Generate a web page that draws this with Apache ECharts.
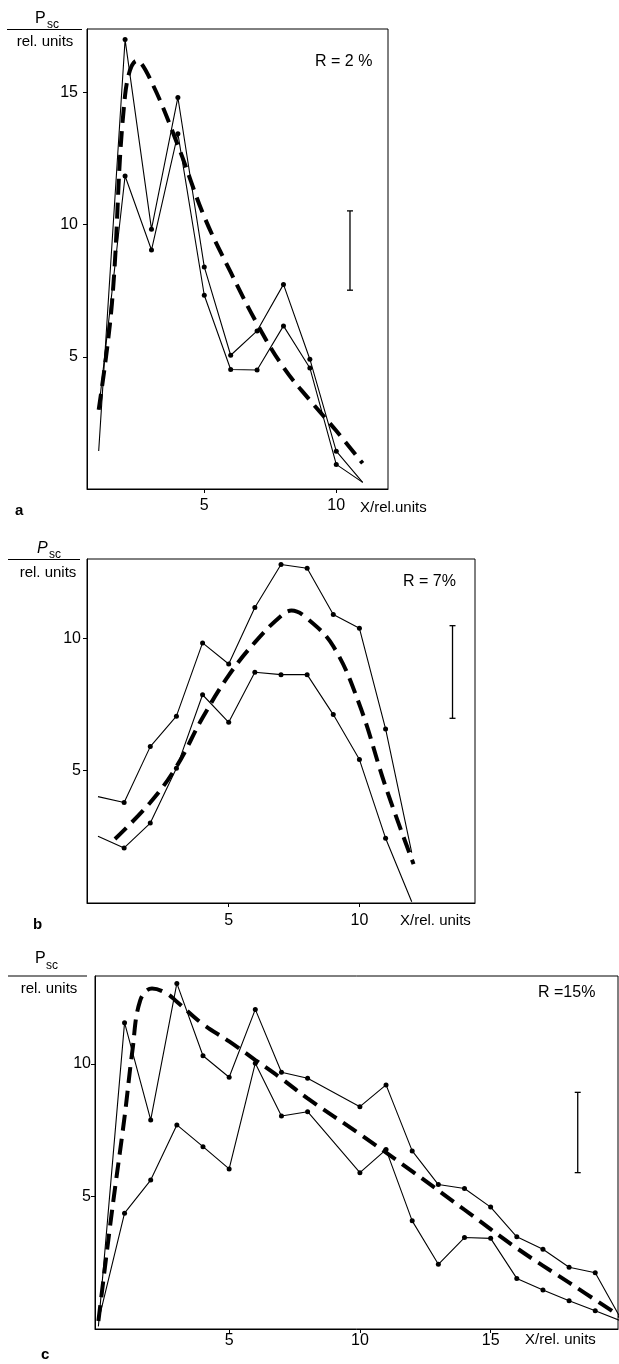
<!DOCTYPE html>
<html>
<head>
<meta charset="utf-8">
<script src="https://cdn.jsdelivr.net/npm/echarts@6/dist/echarts.min.js"></script>
<style>
  html, body { margin: 0; padding: 0; background: #fff; }
  #chart { width: 619px; height: 1364px; }
</style>
</head>
<body>
<div id="chart"></div>
<script>
// ---- Panel a : R = 2 % ----
const aX      = [1, 2, 3, 4, 5, 6, 7, 8, 9, 10, 11];
const aUpper  = [1.44, 17.0, 9.83, 14.81, 8.4, 5.06, 5.98, 7.74, 4.91, 1.43, 0.25];
const aLower  = [3.01, 11.84, 9.04, 13.44, 7.33, 4.52, 4.5, 6.17, 4.58, 0.93, 0.25];
const aFitX   = [1, 1.5, 2, 2.45, 3, 4, 5, 6, 7, 8, 9, 10, 11];
const aFitY   = [3.0, 7.0, 14.9, 16.2, 15.4, 13.0, 10.3, 8.2, 6.25, 4.6, 3.36, 2.2, 0.97];
const aError  = [10.52, 7.52, 10.52];   // x, low, high
const aXTicks = [5, 10];
const aYTicks = [5, 10, 15];

// ---- Panel b : R = 7 % ----
const bX      = [0, 1, 2, 3, 4, 5, 6, 7, 8, 9, 10, 11, 12];
const bUpper  = [4.02, 3.8, 5.91, 7.06, 9.83, 9.03, 11.17, 12.79, 12.65, 10.9, 10.38, 6.58, 1.9];
const bLower  = [2.52, 2.08, 3.02, 5.09, 7.87, 6.83, 8.72, 8.63, 8.63, 7.12, 5.42, 2.45, 0.05];
const bFitX   = [0.65, 2, 3, 4, 5, 6, 7, 7.4, 8, 9, 10, 11, 12.07];
const bFitY   = [2.42, 3.8, 5.15, 7.0, 8.6, 9.85, 10.85, 11.05, 10.75, 9.7, 7.5, 4.4, 1.47];
const bError  = [13.56, 6.98, 10.48];
const bXTicks = [5, 10];
const bYTicks = [5, 10];

// ---- Panel c : R = 15 % ----
const cX      = [0, 1, 2, 3, 4, 5, 6, 7, 8, 10, 11, 12, 13, 14, 15, 16, 17, 18, 19, 20];
const cUpper  = [0.1, 11.56, 7.89, 13.04, 10.31, 9.5, 12.06, 9.69, 9.46, 8.39, 9.21, 6.72, 5.45, 5.3, 4.6, 3.48, 3.01, 2.33, 2.12, 0.35];
const cLower  = [0.3, 4.37, 5.62, 7.7, 6.88, 6.04, 10.03, 8.04, 8.2, 5.9, 6.77, 4.08, 2.44, 3.45, 3.42, 1.91, 1.47, 1.07, 0.69, 0.3];
const cFitX   = [0, 0.5, 1, 1.3, 1.6, 2.05, 2.6, 3, 4, 5, 6, 7, 8, 10, 12, 14, 16, 18, 20];
const cFitY   = [0.3, 4.3, 8.0, 10.5, 12.4, 12.85, 12.67, 12.35, 11.5, 10.85, 10.15, 9.45, 8.7, 7.35, 5.95, 4.5, 3.05, 1.75, 0.45];
const cError  = [18.33, 5.9, 8.93];
const cXTicks = [5, 10, 15];
const cYTicks = [5, 10];

const FONT = '"Liberation Sans", Arial, sans-serif';
const zip = (xs, ys) => xs.map((x, i) => [x, ys[i]]);

// measured curves: dots on every point except the two ends
function measured(xs, ys, idx) {
  const n = xs.length;
  return {
    type: 'line',
    xAxisIndex: idx, yAxisIndex: idx,
    data: zip(xs, ys).map((p, i) => ({
      value: p,
      symbol: (i === 0 || i === n - 1) ? 'none' : 'circle'
    })),
    symbolSize: 5,
    showAllSymbol: true,
    itemStyle: { color: '#000' },
    lineStyle: { color: '#000', width: 1.1 },
    silent: true,
    animation: false,
    z: 3
  };
}

// fitted curve: heavy dashed line
function fitted(xs, ys, idx) {
  return {
    type: 'line',
    xAxisIndex: idx, yAxisIndex: idx,
    data: zip(xs, ys),
    showSymbol: false,
    symbol: 'none',
    smooth: 0.4,
    lineStyle: { color: '#000', width: 4, type: [16, 8], cap: 'butt' },
    silent: true,
    animation: false,
    z: 4
  };
}

// error bar drawn through the axis scale
function errorBar(err, idx) {
  return {
    type: 'custom',
    xAxisIndex: idx, yAxisIndex: idx,
    data: [err],
    encode: { x: 0, y: [1, 2] },
    silent: true,
    animation: false,
    renderItem: function (params, api) {
      const x = api.value(0), lo = api.value(1), hi = api.value(2);
      const t = api.coord([x, hi]);
      const b = api.coord([x, lo]);
      const st = { stroke: '#000', lineWidth: 1.3 };
      return {
        type: 'group',
        children: [
          { type: 'line', shape: { x1: t[0], y1: t[1], x2: b[0], y2: b[1] }, style: st },
          { type: 'line', shape: { x1: t[0] - 3, y1: t[1], x2: t[0] + 3, y2: t[1] }, style: st },
          { type: 'line', shape: { x1: b[0] - 3, y1: b[1], x2: b[0] + 3, y2: b[1] }, style: st }
        ]
      };
    }
  };
}

function xAxis(idx, min, max, ticks, margin) {
  return {
    type: 'value', gridIndex: idx, min: min, max: max,
    axisLine: { show: true, onZero: false, lineStyle: { color: '#000', width: 1 } },
    splitLine: { show: false },
    axisTick: { show: true, customValues: ticks, length: 4, lineStyle: { color: '#000' } },
    axisLabel: { customValues: ticks, color: '#000', fontSize: 16, fontFamily: FONT, margin: margin }
  };
}
function yAxis(idx, min, max, ticks, margin) {
  return {
    type: 'value', gridIndex: idx, min: min, max: max,
    axisLine: { show: true, onZero: false, lineStyle: { color: '#000', width: 1 } },
    splitLine: { show: false },
    axisTick: { show: true, customValues: ticks, length: 4, lineStyle: { color: '#000' } },
    axisLabel: { customValues: ticks, color: '#000', fontSize: 16, fontFamily: FONT, margin: margin }
  };
}

function txt(text, x, y, size, opts) {
  opts = opts || {};
  return {
    type: 'text', silent: true,
    style: {
      text: text, x: x, y: y, fill: '#000',
      font: (opts.style || '') + ' ' + (opts.weight || 'normal') + ' ' + size + 'px ' + FONT,
      align: opts.align || 'left', verticalAlign: 'middle'
    }
  };
}
function rule(x1, x2, y) {
  return { type: 'line', silent: true, shape: { x1: x1, y1: y, x2: x2, y2: y }, style: { stroke: '#000', lineWidth: 1.2 } };
}

const grids = [
  { left: 87, top: 29,  width: 301, height: 460 },
  { left: 87, top: 559, width: 388, height: 344 },
  { left: 95, top: 976, width: 523, height: 353 }
].map(g => Object.assign(g, { show: true, borderColor: '#000', borderWidth: 1, backgroundColor: 'transparent' }));

const option = {
  backgroundColor: '#fff',
  animation: false,
  grid: grids,
  xAxis: [
    xAxis(0, 0.557, 11.96, aXTicks, 9),
    xAxis(1, -0.42, 14.42, bXTicks, 10),
    xAxis(2, -0.13, 19.87, cXTicks, 4)
  ],
  yAxis: [
    yAxis(0, 0, 17.4, aYTicks, 9),
    yAxis(1, 0, 13.0, bYTicks, 6),
    yAxis(2, 0, 13.32, cYTicks, 4)
  ],
  series: [
    measured(aX, aUpper, 0), measured(aX, aLower, 0), fitted(aFitX, aFitY, 0), errorBar(aError, 0),
    measured(bX, bUpper, 1), measured(bX, bLower, 1), fitted(bFitX, bFitY, 1), errorBar(bError, 1),
    measured(cX, cUpper, 2), measured(cX, cLower, 2), fitted(cFitX, cFitY, 2), errorBar(cError, 2)
  ],
  graphic: [
    // panel a
    txt('P', 35, 19, 16), txt('sc', 47, 25, 12), rule(7, 82, 29.5), txt('rel. units', 45, 42, 15, { align: 'center' }),
    txt('R = 2 %', 315, 62, 16),
    txt('a', 15, 511, 15, { weight: 'bold' }),
    txt('X/rel.units', 360, 508, 15),
    // panel b
    txt('P', 37, 549, 16, { style: 'italic' }), txt('sc', 49, 555, 12), rule(8, 80, 559.5), txt('rel. units', 48, 573, 15, { align: 'center' }),
    txt('R = 7%', 403, 582, 16),
    txt('b', 33, 925, 15, { weight: 'bold' }),
    txt('X/rel. units', 400, 921, 15),
    // panel c
    txt('P', 35, 959, 16), txt('sc', 46, 966, 12), rule(8, 87, 976), txt('rel. units', 49, 989, 15, { align: 'center' }),
    txt('R =15%', 538, 993, 16),
    txt('c', 41, 1355, 15, { weight: 'bold' }),
    txt('X/rel. units', 525, 1340, 15)
  ]
};

const chart = echarts.init(document.getElementById('chart'), null, { renderer: 'canvas' });
chart.setOption(option);
</script>
</body>
</html>
